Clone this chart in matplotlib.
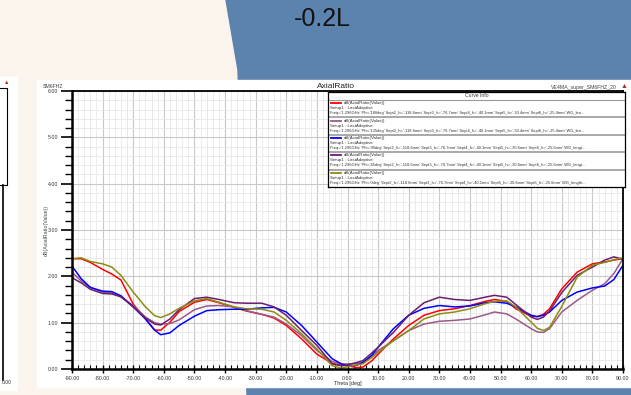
import matplotlib.pyplot as plt
from matplotlib.patches import Polygon, Rectangle
from matplotlib.ticker import MultipleLocator, FormatStrFormatter

plt.rcParams['font.family'] = ['Liberation Sans', 'DejaVu Sans']

# Theta grid (deg) and axial ratio (dB)
theta = [-90, -87, -84, -80, -77, -74, -70, -66, -63, -61, -58, -55, -50, -46, -42,
         -37, -33, -28, -24, -20, -15, -10, -5, -2, 0, 3, 5, 8, 10, 15, 20, 25, 30,
         35, 40, 45, 48, 52, 55, 60, 62, 64, 66, 70, 75, 80, 84, 87, 90]

ar_phi180 = [2.38, 2.38, 2.30, 2.15, 2.05, 1.92, 1.40, 1.08, 0.84, 0.84, 1.01, 1.24, 1.44, 1.50, 1.43,
             1.33, 1.25, 1.18, 1.10, 0.94, 0.65, 0.32, 0.12, 0.08, 0.07, 0.03, 0.04, 0.18, 0.32, 0.65,
             0.94, 1.16, 1.26, 1.30, 1.37, 1.46, 1.50, 1.46, 1.30, 1.14, 1.13, 1.18, 1.30, 1.73, 2.09,
             2.27, 2.31, 2.35, 2.38]
ar_phi135 = [2.09, 1.90, 1.76, 1.66, 1.64, 1.55, 1.37, 1.12, 1.00, 0.97, 0.98, 1.06, 1.28, 1.36, 1.37,
             1.34, 1.26, 1.18, 1.12, 0.97, 0.72, 0.40, 0.16, 0.11, 0.11, 0.12, 0.14, 0.28, 0.40, 0.61,
             0.83, 0.97, 1.03, 1.05, 1.08, 1.17, 1.23, 1.19, 1.08, 0.87, 0.80, 0.79, 0.87, 1.23, 1.48,
             1.70, 1.84, 2.06, 2.38]
ar_phi90 = [2.22, 1.95, 1.76, 1.68, 1.67, 1.58, 1.34, 1.08, 0.84, 0.74, 0.78, 0.94, 1.14, 1.26, 1.28,
            1.29, 1.29, 1.32, 1.33, 1.23, 0.94, 0.58, 0.22, 0.11, 0.07, 0.08, 0.14, 0.30, 0.47, 0.87,
            1.16, 1.31, 1.37, 1.34, 1.36, 1.43, 1.45, 1.42, 1.34, 1.16, 1.13, 1.16, 1.23, 1.48, 1.66,
            1.75, 1.79, 1.93, 2.24]
ar_phi45 = [1.97, 1.86, 1.72, 1.63, 1.62, 1.56, 1.34, 1.10, 0.97, 0.95, 1.08, 1.28, 1.52, 1.55, 1.50,
            1.43, 1.42, 1.42, 1.34, 1.16, 0.83, 0.51, 0.11, 0.07, 0.09, 0.14, 0.18, 0.35, 0.47, 0.79,
            1.16, 1.43, 1.55, 1.50, 1.48, 1.55, 1.59, 1.55, 1.39, 1.12, 1.07, 1.12, 1.25, 1.65, 2.02,
            2.20, 2.35, 2.42, 2.37]
ar_phi0 = [2.38, 2.40, 2.32, 2.27, 2.20, 2.02, 1.66, 1.34, 1.15, 1.11, 1.19, 1.31, 1.47, 1.52, 1.44,
           1.34, 1.30, 1.29, 1.23, 1.05, 0.76, 0.43, 0.07, 0.02, 0.05, 0.09, 0.11, 0.25, 0.36, 0.61,
           0.83, 1.08, 1.19, 1.23, 1.30, 1.41, 1.46, 1.47, 1.34, 1.01, 0.88, 0.83, 0.90, 1.35, 1.98,
           2.24, 2.30, 2.36, 2.40]

series = [ar_phi180, ar_phi135, ar_phi90, ar_phi45, ar_phi0]
phi_labels = ['180deg', '135deg', '90deg', '45deg', '0deg']
sept5 = ['-30.4mm', '-30.4mm', '-30.6mm', '-30.6mm', '-30.6mm']
sept6 = ['-25.4mm', '-25.4mm', '-25.6mm', '-25.6mm', '-25.6mm']
wg_tail = ['WG_len...', 'WG_len...', 'WG_lengt...', 'WG_lengt...', 'WG_length...']
colors = ['#ff0000', '#9c5a88', '#0000ff', '#6b1e6e', '#8c8c14']

W, H = 631, 395
fig = plt.figure(figsize=(W / 100, H / 100), dpi=100)

# slide background (pixel coordinates)
bg = fig.add_axes([0, 0, 1, 1])
bg.set_xlim(0, W)
bg.set_ylim(H, 0)
bg.axis('off')
bg.add_patch(Rectangle((0, 0), W, H, color='#fbf4ec'))
bg.add_patch(Polygon([(226, 0), (W, 0), (W, H), (247, H), (238, 70)], color='#5c82ae'))
bg.text(322, 19, '-0.2L', fontsize=18, ha='center', va='center', color='#111111')
# white report panels
bg.add_patch(Rectangle((0, 77), 16.5, 313, color='white'))
bg.add_patch(Rectangle((37, 80), W - 37, 307, color='white'))
# edge of the neighbouring chart
bg.plot([3, 3], [185, 380], color='black', lw=1.2)
bg.plot([0, 7, 7, 0], [88, 88, 185, 185], color='black', lw=0.8)
bg.text(7, 83, '\u25B2', fontsize=4, color='#b03020', ha='center', va='center')
bg.text(2, 382, '0.00', fontsize=3.6, color='#333333', va='center')
# header texts
bg.text(43, 87, 'SM6FHZ', fontsize=3.8, color='#444444', va='center')
bg.text(336, 87, 'AxialRatio', fontsize=6, color='#222222', ha='center', va='center')
bg.text(617, 87, 'VE4MA_super_SM6FHZ_20', fontsize=3.8, color='#444444', ha='right', va='center')
bg.text(624, 86, '\u25B2', fontsize=5, color='#b03020', ha='center', va='center')
bg.text(46.5, 230, 'dB(AxialRatio(Value))', fontsize=3.8, color='#444444',
        rotation=90, ha='center', va='center')
bg.text(348, 383, 'Theta [deg]', fontsize=4, color='#333333', ha='center', va='center')

# main plot
ax = fig.add_axes([72 / W, 1 - 369 / H, 551 / W, 278 / H])
for data, c in zip(series, colors):
    ax.plot(theta, data, color=c, lw=1.1)
ax.set_xlim(-90, 90)
ax.set_ylim(0, 6)
ax.xaxis.set_major_locator(MultipleLocator(10))
ax.xaxis.set_minor_locator(MultipleLocator(2))
ax.yaxis.set_major_locator(MultipleLocator(1))
ax.yaxis.set_minor_locator(MultipleLocator(0.2))
ax.xaxis.set_major_formatter(FormatStrFormatter('%.2f'))
ax.yaxis.set_major_formatter(FormatStrFormatter('%.2f'))
ax.grid(which='major', color='#c8c8c8', lw=0.8)
ax.grid(which='minor', color='#e8e8e8', lw=0.6)
ax.set_axisbelow(True)
ax.tick_params(axis='y', which='major', direction='out', length=8, width=1.2,
               labelsize=3.8, labelcolor='#333333', pad=2)
ax.tick_params(axis='y', which='minor', direction='out', length=5, width=1.0)
ax.tick_params(axis='x', which='major', direction='inout', length=6, width=1.0,
               labelsize=3.8, labelcolor='#333333', pad=2)
ax.tick_params(axis='x', which='minor', direction='in', length=3, width=0.8)
for s in ['left', 'bottom']:
    ax.spines[s].set_linewidth(1.8)
for s in ['top', 'right']:
    ax.spines[s].set_linewidth(1.3)

# curve info box
lx0, ly0, lw_, lh = 328, 92, 297, 95
lax = fig.add_axes([lx0 / W, 1 - (ly0 + lh) / H, lw_ / W, lh / H])
lax.set_xlim(0, lw_)
lax.set_ylim(lh, 0)
lax.set_xticks([])
lax.set_yticks([])
lax.set_facecolor('white')
for s in lax.spines.values():
    s.set_linewidth(0.9)
lax.text(lw_ / 2, 3.8, 'Curve Info', fontsize=3.6, color='#333333', ha='center', va='center')
lax.plot([0, lw_], [7.5, 7.5], color='#999999', lw=0.8)
row_h = (lh - 8) / len(series)
for i in range(len(series)):
    y = 8 + i * row_h
    lax.plot([3, 13], [y + 3.2, y + 3.2], color=colors[i], lw=1.3)
    lax.text(16, y + 3.2, 'dB(AxialRatio(Value))', fontsize=3.2, color='#333333', va='center')
    lax.text(2, y + 8.2, 'Setup1 : LastAdaptive', fontsize=3.2, color='#333333', va='center')
    freq = ("Freq='1.296GHz' Phi='" + phi_labels[i] + "' Sept2_h='-118.6mm' Sept3_h='-76.7mm' "
            "Sept4_h='-40.1mm' Sept5_h='" + sept5[i] + "' Sept6_h='" + sept6[i] + "' " + wg_tail[i])
    lax.text(2, y + 13.2, freq, fontsize=2.85, color='#333333', va='center')
    if i < len(series) - 1:
        lax.plot([0, lw_], [y + row_h, y + row_h], color='#9a9a9a', lw=1.2)

fig.savefig('out.png', dpi=100)
